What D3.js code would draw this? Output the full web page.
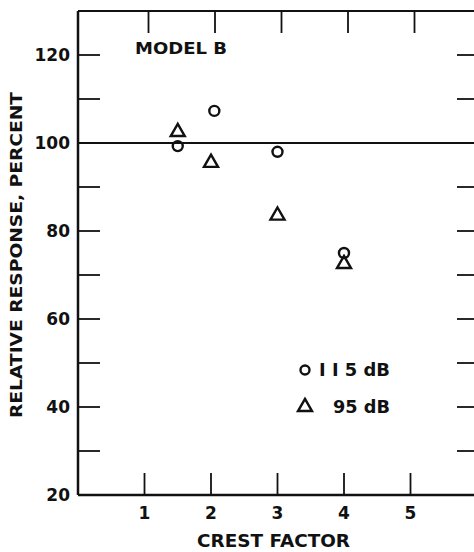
<!DOCTYPE html>
<html><head><meta charset="utf-8">
<script src="https://cdn.jsdelivr.net/npm/d3@7"></script>
<style>body{margin:0;background:#fff}svg{display:block}text{font-family:"DejaVu Sans",sans-serif;font-weight:bold;fill:#111}</style>
</head><body><svg id="c" width="474" height="552"></svg>
<script>
const crestFactor115 = [1.5, 2.05, 3.0, 4.0];
const response115 = [99.3, 107.3, 98.0, 75.0];
const crestFactor95 = [1.5, 2.0, 3.0, 4.0];
const response95 = [102.5, 95.5, 83.5, 72.5];
const xTicks = [1, 2, 3, 4, 5];
const yMajor = [20, 40, 60, 80, 100, 120];
const yMinor = [30, 50, 70, 90, 110];
const legendLabels = ["I I 5 dB", "95 dB"];

const svg = d3.select("#c");
const x = d3.scaleLinear().domain([0, 6]).range([78, 477]);
const y = d3.scaleLinear().domain([20, 130]).range([495, 11]);
const ink = "#111";

// frame
svg.append("line").attr("x1", x(0)).attr("x2", x(0)).attr("y1", y(130)).attr("y2", y(20)).attr("stroke", ink).attr("stroke-width", 2.5);
svg.append("line").attr("x1", x(0)).attr("x2", 474).attr("y1", y(20)).attr("y2", y(20)).attr("stroke", ink).attr("stroke-width", 2.5);
svg.append("line").attr("x1", x(0)).attr("x2", 474).attr("y1", y(130)).attr("y2", y(130)).attr("stroke", ink).attr("stroke-width", 2);
svg.append("line").attr("x1", x(0)).attr("x2", 474).attr("y1", y(100)).attr("y2", y(100)).attr("stroke", ink).attr("stroke-width", 1.8);

// y ticks left and right
const yAll = yMajor.concat(yMinor).filter(v => v > 20);
svg.selectAll(".yl").data(yAll).join("line").attr("x1", x(0)).attr("x2", x(0) + 22)
  .attr("y1", d => y(d)).attr("y2", d => y(d)).attr("stroke", ink).attr("stroke-width", 1.8);
svg.selectAll(".yr").data(yAll).join("line").attr("x1", 457).attr("x2", 474)
  .attr("y1", d => y(d)).attr("y2", d => y(d)).attr("stroke", ink).attr("stroke-width", 1.8);
svg.selectAll(".ylab").data(yMajor).join("text").attr("x", 70).attr("y", d => y(d))
  .attr("dy", "0.36em").attr("text-anchor", "end").attr("font-size", 17).text(d => d);

// x ticks bottom and top
svg.selectAll(".xb").data(xTicks).join("line").attr("x1", d => x(d)).attr("x2", d => x(d))
  .attr("y1", y(20)).attr("y2", y(20) - 22).attr("stroke", ink).attr("stroke-width", 1.8);
svg.selectAll(".xt").data(xTicks).join("line").attr("x1", d => x(d) + 4).attr("x2", d => x(d) + 4)
  .attr("y1", y(130)).attr("y2", y(130) + 22).attr("stroke", ink).attr("stroke-width", 1.8);
svg.selectAll(".xlab").data(xTicks).join("text").attr("x", d => x(d)).attr("y", 513)
  .attr("dy", "0.36em").attr("text-anchor", "middle").attr("font-size", 17).text(d => d);

svg.append("text").attr("x", 197).attr("y", 541).attr("dy", "0.36em")
  .attr("font-size", 18).attr("textLength", 153).attr("lengthAdjust", "spacingAndGlyphs").text("CREST FACTOR");
svg.append("text").attr("transform", "translate(16,418) rotate(-90)").attr("dy", "0.36em")
  .attr("font-size", 16).attr("textLength", 326).attr("lengthAdjust", "spacingAndGlyphs")
  .text("RELATIVE RESPONSE, PERCENT");
svg.append("text").attr("x", 135).attr("y", 48).attr("dy", "0.36em").attr("font-size", 16)
  .attr("textLength", 92).attr("lengthAdjust", "spacingAndGlyphs").text("MODEL B");

// marks
const tri = d3.symbol().type(d3.symbolTriangle).size(85);
svg.selectAll(".c115").data(crestFactor115).join("circle").attr("cx", d => x(d))
  .attr("cy", (d, i) => y(response115[i])).attr("r", 5).attr("fill", "none").attr("stroke", ink).attr("stroke-width", 2.4);
svg.selectAll(".t95").data(crestFactor95).join("path").attr("d", tri)
  .attr("transform", (d, i) => `translate(${x(d)},${y(response95[i])})`).attr("fill", "none").attr("stroke", ink).attr("stroke-width", 2.4);

// legend
svg.append("circle").attr("cx", 305).attr("cy", 370).attr("r", 4.5).attr("fill", "none").attr("stroke", ink).attr("stroke-width", 2.4);
svg.append("text").attr("x", 319).attr("y", 370).attr("dy", "0.36em").attr("font-size", 17)
  .attr("textLength", 71).attr("lengthAdjust", "spacingAndGlyphs").text(legendLabels[0]);
svg.append("path").attr("d", tri).attr("transform", "translate(305,407)").attr("fill", "none").attr("stroke", ink).attr("stroke-width", 2.4);
svg.append("text").attr("x", 333).attr("y", 407).attr("dy", "0.36em").attr("font-size", 17)
  .attr("textLength", 57).attr("lengthAdjust", "spacingAndGlyphs").text(legendLabels[1]);
</script></body></html>
